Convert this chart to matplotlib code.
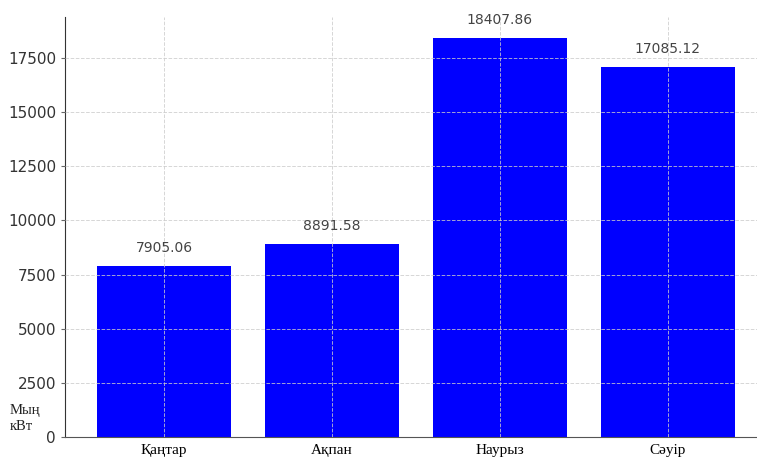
import matplotlib.pyplot as plt

# айлар бойынша тұтыну, мың кВт
months = ['Қаңтар', 'Ақпан', 'Наурыз', 'Сәуір']
values = [7905.06, 8891.58, 18407.86, 17085.12]

fig = plt.figure(figsize=(7.57, 4.57), dpi=100)
ax = fig.add_axes([0.0859, 0.0438, 0.9273, 0.919])

bars = ax.bar(months, values, color='blue', width=0.8)
for b, v in zip(bars, values):
    ax.annotate(f'{v:.2f}', (b.get_x() + b.get_width() / 2, v),
                xytext=(0, 8), textcoords='offset points',
                ha='center', va='bottom', fontsize=10, color='#444444')

ax.grid(True, linestyle='--', color='#cccccc', linewidth=0.7, alpha=0.8)
ax.set_axisbelow(False)
ax.spines['top'].set_visible(False)
ax.spines['right'].set_visible(False)
ax.spines['left'].set_color('#333333')
ax.spines['bottom'].set_color('#555555')

ax.tick_params(axis='y', labelsize=11, labelcolor='#333333', length=3, color='#666666')
ax.tick_params(axis='x', length=0, pad=5)
for lab in ax.get_xticklabels():
    lab.set_family('Liberation Serif')
    lab.set_fontsize(11)

ax.set_ylim(0, 19400)
ax.set_xlim(-0.59, 3.59)

fig.text(0.013, 0.052, 'Мың\nкВт', family='Liberation Serif', fontsize=10.5,
         color='#222222', ha='left', va='bottom', linespacing=1.3)

fig.savefig('out.png', dpi=100)
